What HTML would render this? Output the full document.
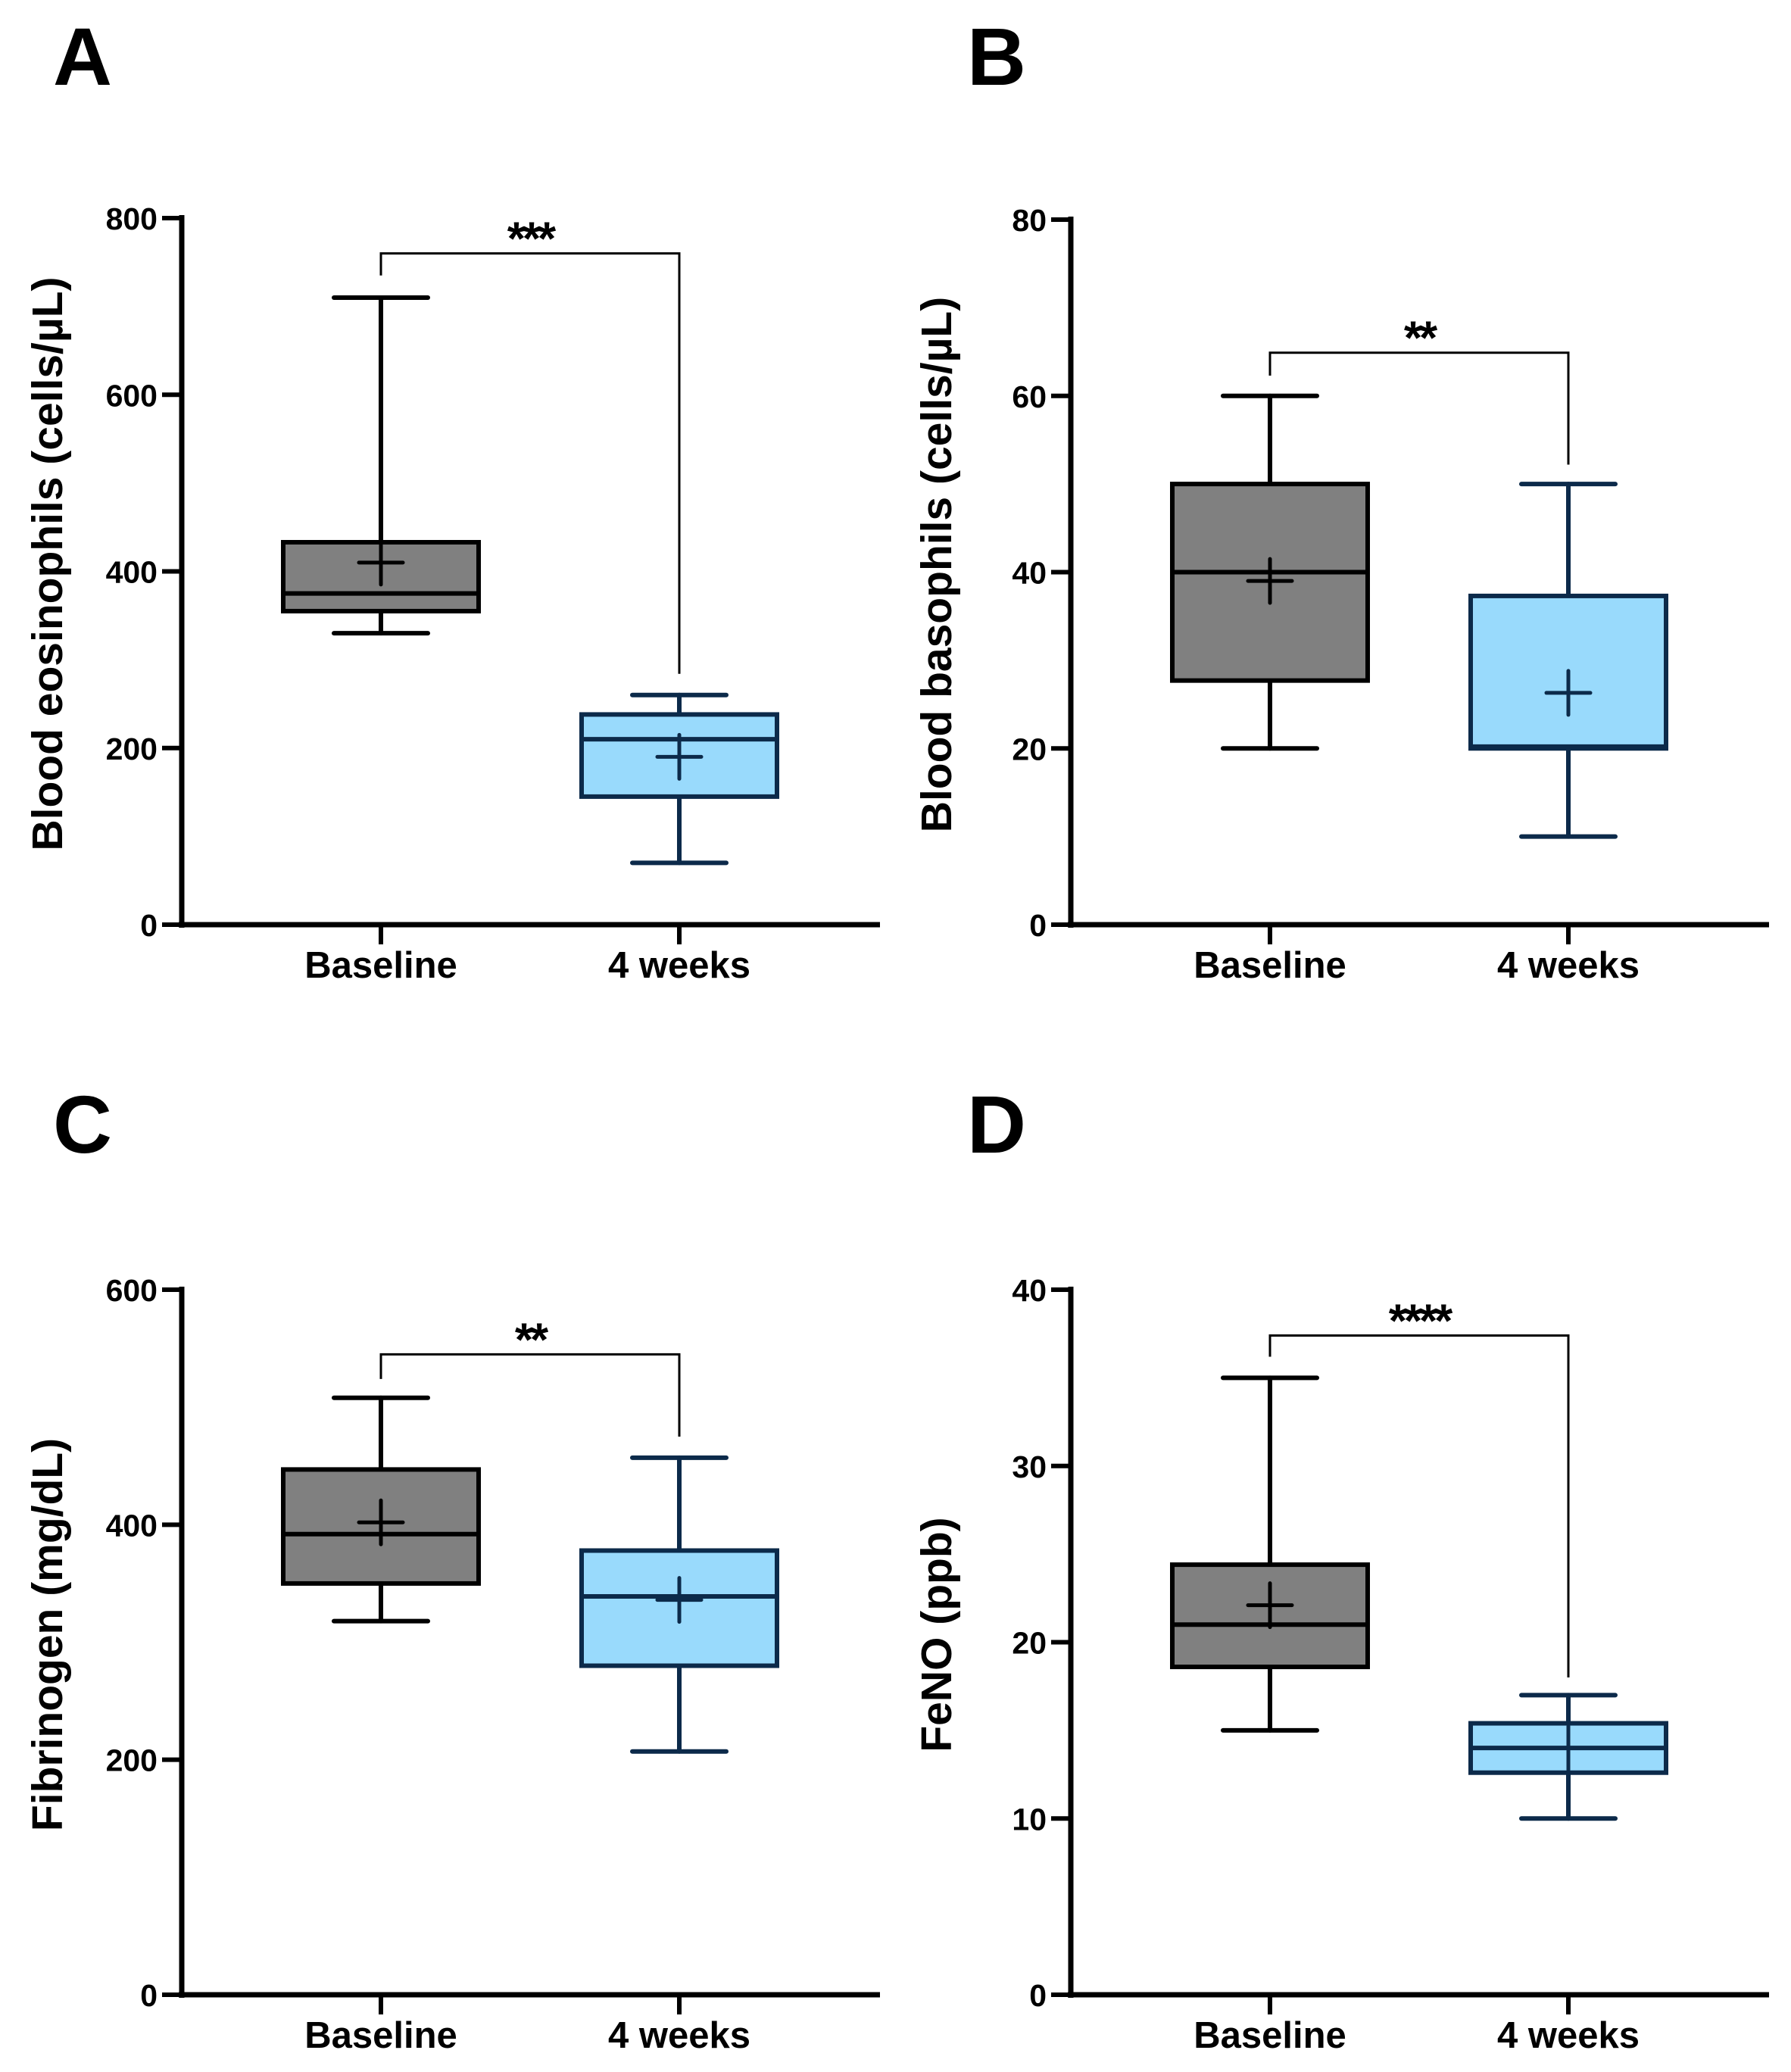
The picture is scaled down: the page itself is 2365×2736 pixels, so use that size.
<!DOCTYPE html>
<html><head><meta charset="utf-8"><style>
html,body{margin:0;padding:0;background:#fff;}
svg{display:block;font-family:"Liberation Sans",Arial,sans-serif;font-weight:bold;}
</style></head><body>
<svg id="fig" width="2365" height="2736" viewBox="0 0 2365 2736" xmlns="http://www.w3.org/2000/svg"></svg>
<script>
// Panel data (five-number summaries + mean)
const categories = ["Baseline", "4 weeks"];
const panelLetters = ["A", "B", "C", "D"];
const yTitles = ["Blood eosinophils (cells/\u00B5L)", "Blood basophils (cells/\u00B5L)", "Fibrinogen (mg/dL)", "FeNO (ppb)"];
const yTicksA = [0, 200, 400, 600, 800];
const yTicksB = [0, 20, 40, 60, 80];
const yTicksC = [0, 200, 400, 600];
const yTicksD = [0, 10, 20, 30, 40];
// [min, q1, median, q3, max, mean] for Baseline, 4 weeks
const statsA = [[330, 355, 375, 433, 710, 410], [70, 145, 210, 238, 260, 190]];
const statsB = [[20, 27.7, 40, 50, 60, 39], [10, 20, 20.2, 37.3, 50, 26.3]];
const statsC = [[318, 350, 392, 447, 508, 402], [207, 280, 339, 378, 457, 336]];
const statsD = [[15, 18.6, 21, 24.4, 35, 22.1], [10, 12.6, 14, 15.4, 17, 14]];
// bracket: [level, leftEnd, rightEnd]
const bracketA = [760, 735, 284];
const bracketB = [64.9, 62.3, 52.2];
const bracketC = [545, 524, 475];
const bracketD = [37.4, 36.2, 18];
const sigLabels = ["***", "**", "**", "****"];

const NS = "http://www.w3.org/2000/svg";
const svg = document.getElementById("fig");
function mk(tag, attrs, parent) {
  const e = document.createElementNS(NS, tag);
  for (const k in attrs) e.setAttribute(k, attrs[k]);
  (parent || svg).appendChild(e);
  return e;
}
const panels = [
  {ax: 240, top: 288, bot: 1221, right: 1162, ticks: yTicksA, stats: statsA, br: bracketA, lx: 70, ly: 112},
  {ax: 1414, top: 290, bot: 1221, right: 2336, ticks: yTicksB, stats: statsB, br: bracketB, lx: 1277, ly: 112},
  {ax: 240, top: 1703, bot: 2634, right: 1162, ticks: yTicksC, stats: statsC, br: bracketC, lx: 70, ly: 1522},
  {ax: 1414, top: 1703, bot: 2634, right: 2336, ticks: yTicksD, stats: statsD, br: bracketD, lx: 1277, ly: 1522}
];
const fills = ["#808080", "#99dafc"];
const strokes = ["#000000", "#0c2a4a"];
panels.forEach((p, i) => {
  const g = mk("g", {});
  
  
  const maxV = p.ticks[p.ticks.length - 1];
  const y = v => p.bot - (v / maxV) * (p.bot - p.top);
  const xs = [p.ax + 263, p.ax + 657];
  const x = c => xs[c];
  const letter = mk("text", {x: p.lx, y: p.ly, "font-size": 108}, g);
  letter.textContent = panelLetters[i];
  
  
  const yax = mk("line", {x1: p.ax, y1: p.top - 4, x2: p.ax, y2: p.bot + 4, stroke: "#000", "stroke-width": 7}, g);
  
  
  const xax = mk("line", {x1: p.ax - 4, y1: p.bot, x2: p.right, y2: p.bot, stroke: "#000", "stroke-width": 7}, g);
  
  
  p.ticks.forEach(t => {
    mk("line", {x1: p.ax - 26, y1: y(t), x2: p.ax, y2: y(t), stroke: "#000", "stroke-width": 6}, g);
    const tl = mk("text", {x: p.ax - 32, y: y(t) + 15, "font-size": 41, "text-anchor": "end"}, g);
    tl.textContent = t;
    
    
  });
  categories.forEach((c, ci) => {
    mk("line", {x1: x(ci), y1: p.bot, x2: x(ci), y2: p.bot + 26, stroke: "#000", "stroke-width": 6}, g);
    const cl = mk("text", {x: x(ci), y: p.bot + 70, "font-size": 49, "text-anchor": "middle"}, g);
    cl.textContent = c;
    
    
  });
  const yt = mk("text", {x: 0, y: 0, "font-size": 57, "text-anchor": "middle", transform: `translate(${p.ax - 158},${(p.top + p.bot) / 2 - 10}) rotate(-90)`}, g);
  yt.textContent = yTitles[i];
  
  
  p.stats.forEach((s, ci) => {
    const bg = mk("g", {stroke: strokes[ci], "stroke-linecap": "round"}, g);
    
    
    const cx = x(ci), hw = 129, cw = 62, mw = 29;
    mk("line", {x1: cx, y1: y(s[0]), x2: cx, y2: y(s[1]), "stroke-width": 6}, bg);
    mk("line", {x1: cx, y1: y(s[3]), x2: cx, y2: y(s[4]), "stroke-width": 6}, bg);
    mk("line", {x1: cx - cw, y1: y(s[0]), x2: cx + cw, y2: y(s[0]), "stroke-width": 6}, bg);
    mk("line", {x1: cx - cw, y1: y(s[4]), x2: cx + cw, y2: y(s[4]), "stroke-width": 6}, bg);
    mk("rect", {x: cx - hw, y: y(s[3]), width: 2 * hw, height: y(s[1]) - y(s[3]), fill: fills[ci], "stroke-width": 6, "stroke-linecap": "butt"}, bg);
    mk("line", {x1: cx - hw, y1: y(s[2]), x2: cx + hw, y2: y(s[2]), "stroke-width": 6, "stroke-linecap": "butt"}, bg);
    mk("line", {x1: cx - mw, y1: y(s[5]), x2: cx + mw, y2: y(s[5]), "stroke-width": 5}, bg);
    mk("line", {x1: cx, y1: y(s[5]) - mw, x2: cx, y2: y(s[5]) + mw, "stroke-width": 5}, bg);
  });
  const b = p.br;
  const br = mk("path", {d: `M${x(0)},${y(b[1])} V${y(b[0])} H${x(1)} V${y(b[2])}`, fill: "none", stroke: "#000", "stroke-width": 3}, g);
  
  
  const st = mk("text", {x: (x(0) + x(1)) / 2, y: y(b[0]) + 2, "font-size": 62, "text-anchor": "middle", "letter-spacing": "-4"}, g);
  st.textContent = sigLabels[i];
  
  
});
</script>
</body></html>
